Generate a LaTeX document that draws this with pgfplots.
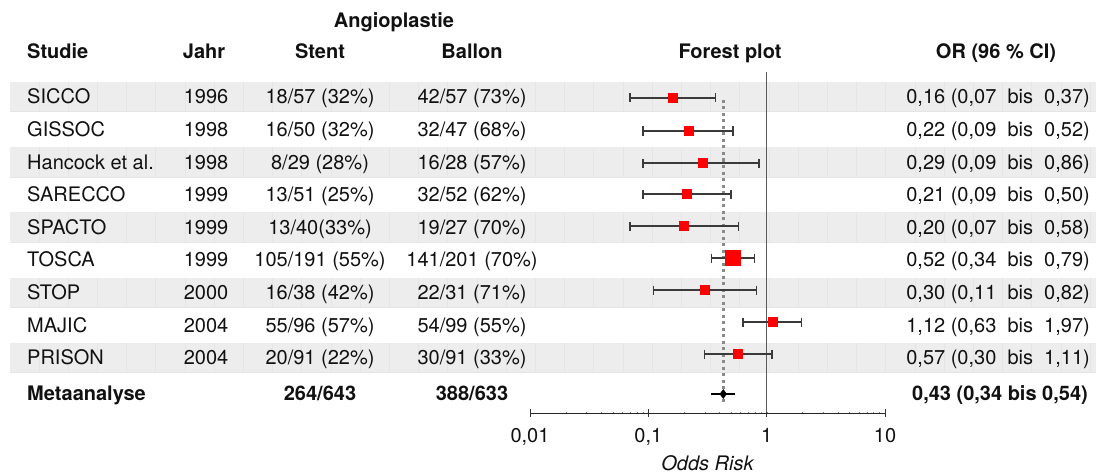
\documentclass[border=0pt]{standalone}
\usepackage{fontspec}
\setmainfont{TeX Gyre Heros}
\usepackage{pgfplots}
\pgfplotsset{compat=1.18}
\usepackage{pgfplotstable}
\definecolor{band}{HTML}{EDEDED}
\definecolor{bandline}{HTML}{E5E5E5}
\definecolor{cigray}{HTML}{3A3A3A}
\definecolor{refgray}{HTML}{5A5A5A}
\definecolor{dotgray}{HTML}{8A8A8A}
\definecolor{txt}{HTML}{111111}

% y = pixel row of the marker, or = odds ratio, lo/hi = 95% CI
\pgfplotstableread{
y   or    lo    hi
98  0.16  0.07  0.37
131 0.22  0.09  0.52
163 0.29  0.09  0.86
194 0.21  0.09  0.50
226 0.20  0.07  0.58
258 0.52  0.34  0.79
290 0.30  0.11  0.82
322 1.12  0.63  1.97
354 0.57  0.30  1.11
}\studies

\begin{document}
\begin{tikzpicture}[font=\fontsize{20bp}{24bp}\selectfont]
\path[use as bounding box] (0,0) rectangle (1099bp,475bp);
% ---------- table layer (pixel coordinates, y downwards) ----------
\begin{scope}[x=1bp, y=-1bp, yshift=475bp, every node/.style={text=txt, inner sep=0pt}]
  \foreach \tp in {82,147.2,212.4,277.6,342.8}{
    \fill[band] (10,\tp) rectangle (1096,\tp+30);
    \foreach \xx in {38.8,68,...,1090}{
      \draw[bandline, line width=0.6bp] (\xx,\tp) -- (\xx,\tp+30);
    }
    \draw[bandline, line width=1bp] (10,\tp+30) -- (1096,\tp+30);
  }
  % headers
  \node[anchor=base, font=\fontsize{20bp}{24bp}\selectfont\bfseries] at (394,28) {Angioplastie};
  \node[anchor=base west, font=\fontsize{20bp}{24bp}\selectfont\bfseries] at (27,59) {Studie};
  \node[anchor=base, font=\fontsize{20bp}{24bp}\selectfont\bfseries] at (204,59) {Jahr};
  \node[anchor=base, font=\fontsize{20bp}{24bp}\selectfont\bfseries] at (320,59) {Stent};
  \node[anchor=base, font=\fontsize{20bp}{24bp}\selectfont\bfseries] at (472,59) {Ballon};
  \node[anchor=base, font=\fontsize{20bp}{24bp}\selectfont\bfseries] at (730,59) {Forest plot};
  \node[anchor=base, font=\fontsize{20bp}{24bp}\selectfont\bfseries] at (996,59) {OR (96 \% CI)};
  % rows: name, year, stent, ballon, OR text
  \foreach \yy/\name/\yr/\st/\ba/\orr in {
    97/SICCO/1996/{18/57 (32\%)}/{42/57 (73\%)}/{0,16 (0,07\ \ bis\ \ 0,37)},
    129.6/GISSOC/1998/{16/50 (32\%)}/{32/47 (68\%)}/{0,22 (0,09\ \ bis\ \ 0,52)},
    162.2/Hancock et al./1998/{8/29 (28\%)}/{16/28 (57\%)}/{0,29 (0,09\ \ bis\ \ 0,86)},
    194.8/SARECCO/1999/{13/51 (25\%)}/{32/52 (62\%)}/{0,21 (0,09\ \ bis\ \ 0,50)},
    227.4/SPACTO/1999/{13/40(33\%)}/{19/27 (70\%)}/{0,20 (0,07\ \ bis\ \ 0,58)},
    260/TOSCA/1999/{105/191 (55\%)}/{141/201 (70\%)}/{0,52 (0,34\ \ bis\ \ 0,79)},
    292.6/STOP/2000/{16/38 (42\%)}/{22/31 (71\%)}/{0,30 (0,11\ \ bis\ \ 0,82)},
    325.2/MAJIC/2004/{55/96 (57\%)}/{54/99 (55\%)}/{1,12 (0,63\ \ bis\ \ 1,97)},
    357.8/PRISON/2004/{20/91 (22\%)}/{30/91 (33\%)}/{0,57 (0,30\ \ bis\ \ 1,11)}}{
    \node[anchor=base west] at (27,\yy+7) {\name};
    \node[anchor=base] at (206,\yy+7) {\yr};
    \node[anchor=base] at (320,\yy+7) {\st};
    \node[anchor=base] at (472,\yy+7) {\ba};
    \node[anchor=base east] at (1090,\yy+7) {\orr};
  }
  \node[anchor=base west, font=\fontsize{20bp}{24bp}\selectfont\bfseries] at (27,401) {Metaanalyse};
  \node[anchor=base, font=\fontsize{20bp}{24bp}\selectfont\bfseries] at (320,401) {264/643};
  \node[anchor=base, font=\fontsize{20bp}{24bp}\selectfont\bfseries] at (472,401) {388/633};
  \node[anchor=base east, font=\fontsize{20bp}{24bp}\selectfont\bfseries] at (1088,401) {0,43 (0,34 bis 0,54)};
\end{scope}
% ---------- forest plot ----------
\begin{axis}[at={(530bp,62bp)}, anchor=south west, scale only axis,
  width=355bp, height=341bp,
  xmode=log, xmin=0.01, xmax=10, ymin=72, ymax=413, y dir=reverse,
  axis y line=none, axis x line*=bottom,
  axis line style={-, black!85, line width=1bp},
  xtick={0.01,0.1,1,10}, xticklabels={{0,01},{0,1},{1},{10}},
  minor xtick={}, tick align=center, major tick length=8bp,
  major tick style={black!80, line width=1bp},
  xticklabel style={font=\fontsize{20bp}{24bp}\selectfont, text=txt, yshift=-8bp},
  xlabel={Odds Risk},
  xlabel style={font=\fontsize{20bp}{24bp}\selectfont\itshape, text=txt, yshift=-3bp},
  clip=false]
  \addplot[refgray, line width=1.6bp] coordinates {(1,72) (1,413)};
  \addplot[dotgray, line width=3bp, dash pattern=on 3bp off 3.5bp] coordinates {(0.43,100) (0.43,405)};
  \pgfplotsinvokeforeach{0,...,8}{
    \pgfplotstablegetelem{#1}{y}\of\studies \let\ry\pgfplotsretval
    \pgfplotstablegetelem{#1}{lo}\of\studies \let\rlo\pgfplotsretval
    \pgfplotstablegetelem{#1}{hi}\of\studies \let\rhi\pgfplotsretval
    \edef\temp{\noexpand\addplot[cigray, line width=1.3bp, mark=|, mark size=4.5bp, mark options={solid, line width=1.3bp}] coordinates {(\rlo,\ry) (\rhi,\ry)};}
    \temp
  }
  \addplot[only marks, mark=square*, mark size=4.6bp, red, mark options={draw=red, fill=red}]
    table[x=or, y=y] {\studies};
  \addplot[only marks, mark=square*, mark size=7.5bp, red, mark options={draw=red, fill=red}]
    coordinates {(0.52,258)};
  \addplot[black, line width=1.3bp] coordinates {(0.34,394) (0.54,394)};
  \addplot[only marks, mark=diamond*, mark size=4.5bp, black] coordinates {(0.43,394)};
\end{axis}
\end{tikzpicture}
\end{document}
